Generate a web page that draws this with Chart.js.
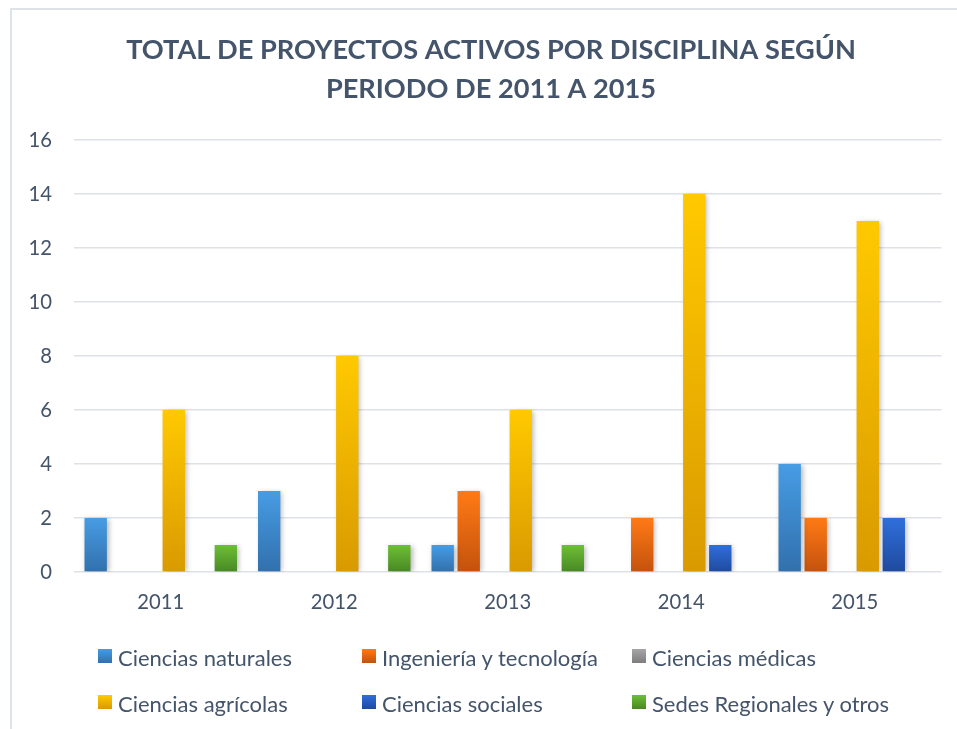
<!DOCTYPE html>
<html><head><meta charset="utf-8">
<script src="https://cdn.jsdelivr.net/npm/chart.js@4/dist/chart.umd.min.js"></script>
<style>
html,body{margin:0;padding:0;background:#fff;}
#wrap{position:relative;width:957px;height:729px;overflow:hidden;background:#fff;}
#frame{position:absolute;left:9.5px;top:8px;width:1100px;height:900px;border:2px solid #DEE3E9;box-sizing:border-box;}
#c{position:absolute;left:0;top:0;}
.leg{position:absolute;white-space:nowrap;color:#44546A;line-height:1;}
.sq{position:absolute;width:14px;height:14px;}
</style>
</head><body>
<div id="wrap">
<div id="frame"></div>
<canvas id="c" width="957" height="729"></canvas>
<div id="legend"></div>
</div>
<script>
// ---- data ----
const categories = ['2011', '2012', '2013', '2014', '2015'];
const seriesNames = ['Ciencias naturales', 'Ingeniería y tecnología', 'Ciencias médicas',
  'Ciencias agrícolas', 'Ciencias sociales', 'Sedes Regionales y otros'];
const cienciasNaturales = [2, 3, 1, 0, 4];
const ingenieriaTecnologia = [0, 0, 3, 2, 2];
const cienciasMedicas = [0, 0, 0, 0, 0];
const cienciasAgricolas = [6, 8, 6, 14, 13];
const cienciasSociales = [0, 0, 0, 1, 2];
const sedesRegionales = [1, 1, 1, 0, 0];
const yTickValues = [0, 2, 4, 6, 8, 10, 12, 14, 16];
const titleLines = ['TOTAL DE PROYECTOS ACTIVOS POR DISCIPLINA SEGÚN', 'PERIODO DE 2011 A 2015'];

// ---- styles ----
const FAMILY = 'Lato, "Open Sans", sans-serif';
const TEXT = '#44546A';
const colors = [
  ['#479CE4', '#3170AD'],
  ['#FF7A15', '#C4520D'],
  ['#A6A6A6', '#7D7D7D'],
  ['#FFC900', '#D99A00'],
  ['#2F6FDB', '#1F4A9E'],
  ['#6DBF37', '#488823']
];
const seriesData = [cienciasNaturales, ingenieriaTecnologia, cienciasMedicas,
  cienciasAgricolas, cienciasSociales, sedesRegionales];

const mctx = document.createElement('canvas').getContext('2d');
function fit(text, weight, target) {
  mctx.font = weight + ' 100px ' + FAMILY;
  return 100 * target / mctx.measureText(text).width;
}
const titleSize = fit(titleLines[0], 'bold', 730);
const tickSize = fit('2011', 'normal', 47);
const legendSize = fit(seriesNames[0], 'normal', 174);
const TITLE_CENTER = 491;

function grad(top, bottom) {
  return (ctx) => {
    const chart = ctx.chart;
    if (!chart.chartArea || ctx.type !== 'data') return top;
    const ys = chart.scales.y;
    const v = ctx.raw;
    const y0 = ys.getPixelForValue(v), y1 = ys.getPixelForValue(0);
    if (y1 - y0 < 1) return top;
    const g = chart.ctx.createLinearGradient(0, y0, 0, y1);
    g.addColorStop(0, top); g.addColorStop(1, bottom);
    return g;
  };
}

const shadowPlugin = {
  id: 'barShadow',
  beforeDatasetsDraw(chart) {
    const c = chart.ctx; c.save();
    c.shadowColor = 'rgba(0,0,0,0.28)'; c.shadowBlur = 5; c.shadowOffsetX = 2; c.shadowOffsetY = 1;
  },
  afterDatasetsDraw(chart) { chart.ctx.restore(); }
};

const titleShift = {
  id: 'titleShift',
  afterLayout(chart) {
    const t = chart.titleBlock;
    if (t) { t.left = 2 * TITLE_CENTER - t.right; t.width = t.right - t.left; }
  }
};

new Chart(document.getElementById('c'), {
  type: 'bar',
  data: {
    labels: categories,
    datasets: seriesData.map((d, i) => ({
      label: seriesNames[i],
      data: d,
      backgroundColor: grad(colors[i][0], colors[i][1]),
      borderWidth: 0,
      categoryPercentage: 0.9,
      barPercentage: 0.86
    }))
  },
  options: {
    responsive: false,
    animation: false,
    layout: { padding: { left: 0, right: 15.5, top: 21, bottom: 0 } },
    plugins: {
      legend: { display: false },
      tooltip: { enabled: false },
      title: {
        display: true,
        text: titleLines,
        color: TEXT,
        font: { family: FAMILY, size: titleSize, weight: 'bold', lineHeight: 1.42 },
        padding: { top: 10, bottom: 140 - 31 - 2 * titleSize * 1.42 }
      }
    },
    scales: {
      x: {
        grid: { display: false, drawTicks: false },
        border: { display: false },
        ticks: { color: TEXT, font: { family: FAMILY, size: tickSize, lineHeight: 1.2 }, padding: 18 },
        afterFit(s) { s.height = 729 - 572; }
      },
      y: {
        min: 0, max: 16,
        afterBuildTicks(s) { s.ticks = yTickValues.map(v => ({ value: v })); },
        grid: { color: '#DEE2E7', lineWidth: 1.6, drawTicks: false },
        border: { display: false },
        ticks: { color: TEXT, font: { family: FAMILY, size: tickSize }, padding: 22 },
        afterFit(s) { s.width = 74; }
      }
    }
  },
  plugins: [shadowPlugin, titleShift]
});

// ---- legend (HTML) ----
const legPos = [[98, 656], [362, 656], [632, 656], [98, 702], [362, 702], [632, 702]];
const legend = document.getElementById('legend');
seriesNames.forEach((n, i) => {
  const [x, y] = legPos[i];
  const sq = document.createElement('div');
  sq.className = 'sq';
  sq.style.left = x + 'px'; sq.style.top = (y - 7) + 'px';
  sq.style.background = 'linear-gradient(' + colors[i][0] + ',' + colors[i][1] + ')';
  legend.appendChild(sq);
  const t = document.createElement('div');
  t.className = 'leg';
  t.textContent = n;
  t.style.font = legendSize + 'px ' + FAMILY;
  t.style.left = (x + 20) + 'px';
  t.style.top = (y - legendSize * 0.55) + 'px';
  legend.appendChild(t);
});
</script>
</body></html>
